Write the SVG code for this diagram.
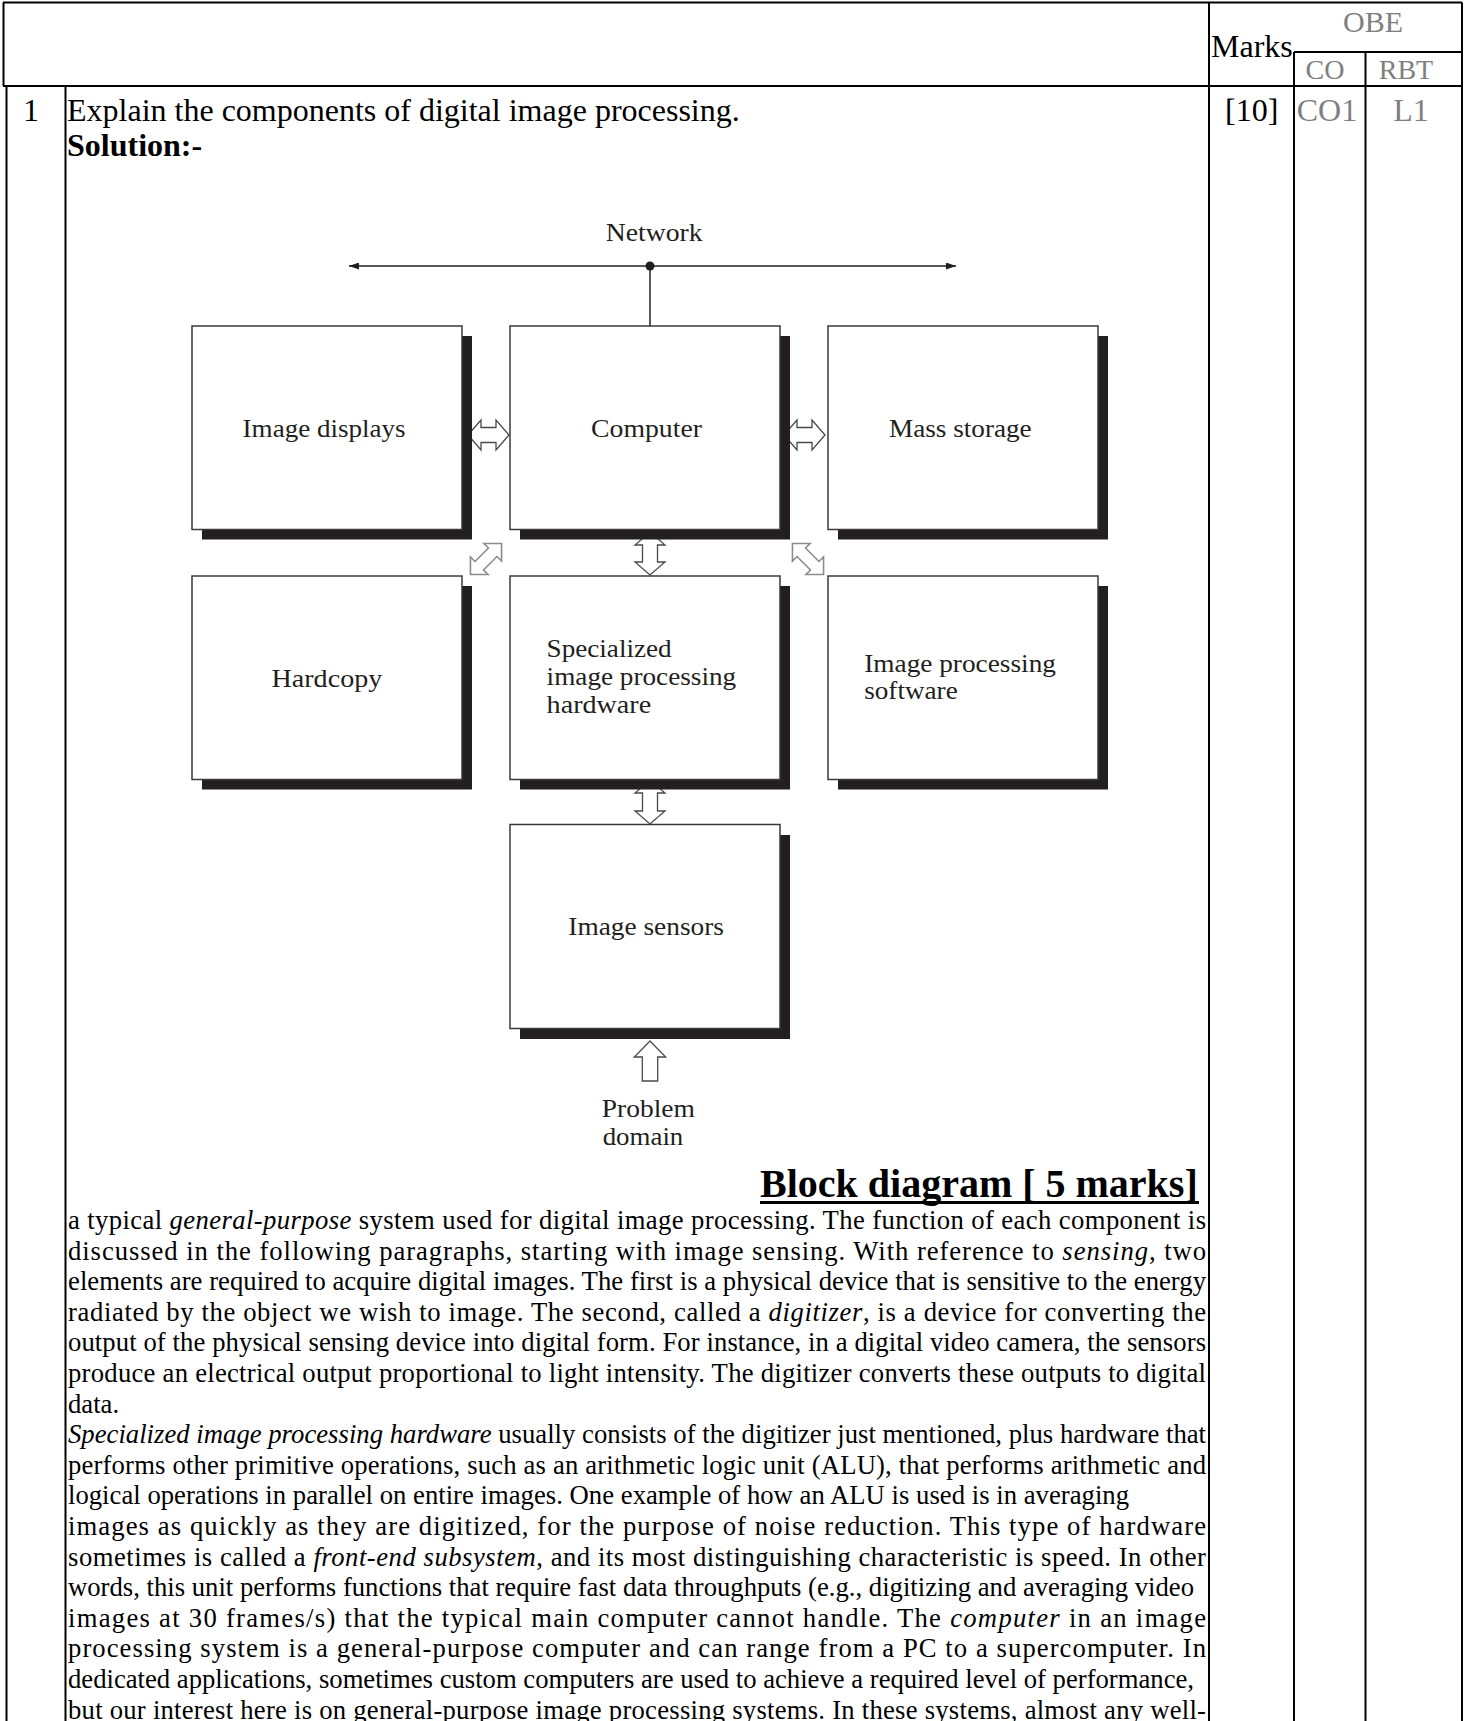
<svg xmlns="http://www.w3.org/2000/svg" width="1470" height="1721" viewBox="0 0 1470 1721">
<style>
.t{font-family:"Liberation Serif","Times New Roman",serif;fill:#000}
.hd{font-size:32px}
.g{fill:#7f7f7f}
.body{font-size:26.67px}
.lbl{font-family:"Liberation Serif","Times New Roman",serif;font-size:25.5px;fill:#231f20}
.box{fill:#fff;stroke:#3a3a3a;stroke-width:1.5}
.sh{fill:#231f20}
.arr{fill:#fff;stroke:#4a4a4a;stroke-width:1.3;stroke-linejoin:miter}
.darr{fill:#fff;stroke:#8c8c8c;stroke-width:1.6;stroke-linejoin:miter}
.grid{stroke:#000;stroke-width:2;fill:none}
.net{stroke:#231f20;stroke-width:1.5;fill:none}
</style>
<defs>
<marker id="ah" viewBox="0 0 10 7" refX="10" refY="3.5" markerWidth="10" markerHeight="7" markerUnits="userSpaceOnUse" orient="auto-start-reverse"><path d="M0,0 L10,3.5 L0,7 Z" fill="#231f20"/></marker>
<path id="dbl" d="M-22,0 L-9.5,-12.5 L-9.5,-6 L9.5,-6 L9.5,-12.5 L22,0 L9.5,12.5 L9.5,6 L-9.5,6 L-9.5,12.5 Z"/>
</defs>
<rect width="1470" height="1721" fill="#fff"/>
<g id="table">
<path class="grid" d="M3,2.5 H1462 M3.5,2.5 V86 M3,86 H1462 M6.5,86 V1721 M65.5,86 V1721 M1209,2.5 V1721 M1294,52 H1462 M1294,52 V1721 M1365.5,52 V1721 M1462,2.5 V1721"/>
<text class="t hd" x="1211" y="57">Marks</text>
<text class="t g" x="1373" y="32" font-size="30" text-anchor="middle">OBE</text>
<text class="t g" x="1325" y="79" font-size="28" text-anchor="middle">CO</text>
<text class="t g" x="1406" y="79" font-size="28" text-anchor="middle">RBT</text>
<text class="t hd" x="23" y="121">1</text>
<text class="t hd" x="67" y="121">Explain the components of digital image processing.</text>
<text class="t hd" x="67" y="156" font-weight="bold">Solution:-</text>
<text class="t hd" x="1225" y="121">[10]</text>
<text class="t hd g" x="1327" y="121" text-anchor="middle">CO1</text>
<text class="t hd g" x="1411" y="121" text-anchor="middle">L1</text>
</g>
<g id="connectors">
<path class="net" d="M349,266 H956" marker-start="url(#ah)" marker-end="url(#ah)"/>
<circle cx="650" cy="266" r="4.5" fill="#231f20"/>
<path class="net" d="M650,266 V326"/>
<path class="arr" d="M468,435 L481,420 L481,427.5 L496,427.5 L496,420 L509,435 L496,450 L496,442.5 L481,442.5 L481,450 Z"/>
<path class="arr" d="M784,435 L797,420 L797,427.5 L812,427.5 L812,420 L825,435 L812,450 L812,442.5 L797,442.5 L797,450 Z"/>
<path class="arr" d="M650,532 L665,545 L657.5,545 L657.5,562 L665,562 L650,575 L635,562 L642.5,562 L642.5,545 L635,545 Z"/>
<path class="arr" d="M650,780 L665,793 L657.5,793 L657.5,811 L665,811 L650,824 L635,811 L642.5,811 L642.5,793 L635,793 Z"/>
<path class="arr" d="M650,1041 L665.7,1057 L657.7,1057 L657.7,1081 L642.3,1081 L642.3,1057 L634.3,1057 Z"/>
<use href="#dbl" class="darr" transform="translate(486,559) rotate(-45)"/>
<use href="#dbl" class="darr" transform="translate(808,559) rotate(45)"/>
</g>
<g id="network-label"><text class="lbl" x="605.7" y="241" textLength="97" lengthAdjust="spacingAndGlyphs">Network</text></g>
<g id="image-displays">
<rect class="sh" x="202" y="336" width="270" height="203.5"/>
<rect class="box" x="192" y="326" width="270" height="203.5"/>
<text class="lbl" x="242.6" y="437" textLength="163" lengthAdjust="spacingAndGlyphs">Image displays</text>
</g>
<g id="computer">
<rect class="sh" x="520" y="336" width="270" height="203.5"/>
<rect class="box" x="510" y="326" width="270" height="203.5"/>
<text class="lbl" x="591" y="437" textLength="111" lengthAdjust="spacingAndGlyphs">Computer</text>
</g>
<g id="mass-storage">
<rect class="sh" x="838" y="336" width="270" height="203.5"/>
<rect class="box" x="828" y="326" width="270" height="203.5"/>
<text class="lbl" x="889" y="437" textLength="142.7" lengthAdjust="spacingAndGlyphs">Mass storage</text>
</g>
<g id="hardcopy">
<rect class="sh" x="202" y="586" width="270" height="203.5"/>
<rect class="box" x="192" y="576" width="270" height="203.5"/>
<text class="lbl" x="271.5" y="687" textLength="110.8" lengthAdjust="spacingAndGlyphs">Hardcopy</text>
</g>
<g id="specialized-hardware">
<rect class="sh" x="520" y="586" width="270" height="203.5"/>
<rect class="box" x="510" y="576" width="270" height="203.5"/>
<text class="lbl" x="546.6" y="657" textLength="125" lengthAdjust="spacingAndGlyphs">Specialized</text>
<text class="lbl" x="546.6" y="685" textLength="189.6" lengthAdjust="spacingAndGlyphs">image processing</text>
<text class="lbl" x="546.6" y="713.3" textLength="104.6" lengthAdjust="spacingAndGlyphs">hardware</text>
</g>
<g id="image-processing-software">
<rect class="sh" x="838" y="586" width="270" height="203.5"/>
<rect class="box" x="828" y="576" width="270" height="203.5"/>
<text class="lbl" x="864.2" y="672" textLength="191.8" lengthAdjust="spacingAndGlyphs">Image processing</text>
<text class="lbl" x="864.2" y="698.5" textLength="93.5" lengthAdjust="spacingAndGlyphs">software</text>
</g>
<g id="image-sensors">
<rect class="sh" x="520" y="835" width="270" height="204"/>
<rect class="box" x="510" y="824.5" width="270" height="204"/>
<text class="lbl" x="568.3" y="935" textLength="155.7" lengthAdjust="spacingAndGlyphs">Image sensors</text>
</g>
<g id="problem-domain">
<text class="lbl" x="601.7" y="1116.5" textLength="93.3" lengthAdjust="spacingAndGlyphs">Problem</text>
<text class="lbl" x="602.7" y="1145" textLength="80.6" lengthAdjust="spacingAndGlyphs">domain</text>
</g>
<g id="heading">
<text class="t" x="760" y="1197" font-size="40" font-weight="bold">Block diagram [ 5 marks]</text>
<rect x="760" y="1201" width="439" height="3" fill="#000"/>
</g>
<g id="body-text" class="t body">
<text x="68" y="1229" textLength="1138" lengthAdjust="spacing">a typical <tspan font-style="italic">general-purpose</tspan> system used for digital image processing. The function of each component is</text>
<text x="68" y="1259.6" textLength="1138" lengthAdjust="spacing">discussed in the following paragraphs, starting with image sensing. With reference to <tspan font-style="italic">sensing</tspan>, two</text>
<text x="68" y="1290.2" textLength="1138" lengthAdjust="spacing">elements are required to acquire digital images. The first is a physical device that is sensitive to the energy</text>
<text x="68" y="1320.8" textLength="1138" lengthAdjust="spacing">radiated by the object we wish to image. The second, called a <tspan font-style="italic">digitizer</tspan>, is a device for converting the</text>
<text x="68" y="1351.4" textLength="1138" lengthAdjust="spacing">output of the physical sensing device into digital form. For instance, in a digital video camera, the sensors</text>
<text x="68" y="1382" textLength="1138" lengthAdjust="spacing">produce an electrical output proportional to light intensity. The digitizer converts these outputs to digital</text>
<text x="68" y="1412.6">data.</text>
<text x="68" y="1443.2" textLength="1138" lengthAdjust="spacing"><tspan font-style="italic">Specialized image processing hardware</tspan> usually consists of the digitizer just mentioned, plus hardware that</text>
<text x="68" y="1473.8" textLength="1138" lengthAdjust="spacing">performs other primitive operations, such as an arithmetic logic unit (ALU), that performs arithmetic and</text>
<text x="68" y="1504.4" textLength="1061" lengthAdjust="spacing">logical operations in parallel on entire images. One example of how an ALU is used is in averaging</text>
<text x="68" y="1535" textLength="1138" lengthAdjust="spacing">images as quickly as they are digitized, for the purpose of noise reduction. This type of hardware</text>
<text x="68" y="1565.6" textLength="1138" lengthAdjust="spacing">sometimes is called a <tspan font-style="italic">front-end subsystem</tspan>, and its most distinguishing characteristic is speed. In other</text>
<text x="68" y="1596.2" textLength="1126" lengthAdjust="spacing">words, this unit performs functions that require fast data throughputs (e.g., digitizing and averaging video</text>
<text x="68" y="1626.8" textLength="1138" lengthAdjust="spacing">images at 30 frames/s) that the typical main computer cannot handle. The <tspan font-style="italic">computer</tspan> in an image</text>
<text x="68" y="1657.4" textLength="1138" lengthAdjust="spacing">processing system is a general-purpose computer and can range from a PC to a supercomputer. In</text>
<text x="68" y="1688" textLength="1126" lengthAdjust="spacing">dedicated applications, sometimes custom computers are used to achieve a required level of performance,</text>
<text x="68" y="1718.6" textLength="1138" lengthAdjust="spacing">but our interest here is on general-purpose image processing systems. In these systems, almost any well-</text>
</g>
</svg>
